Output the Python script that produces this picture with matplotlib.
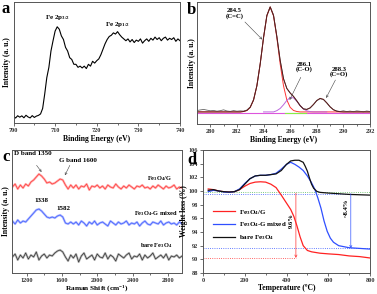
import numpy as np
import matplotlib
matplotlib.use('Agg')
import matplotlib.pyplot as plt

plt.rcParams['font.family'] = 'Liberation Serif'
plt.rcParams['font.weight'] = 'bold'
plt.rcParams['mathtext.fontset'] = 'custom'
plt.rcParams['mathtext.rm'] = 'Liberation Serif:bold'
plt.rcParams['mathtext.it'] = 'Liberation Serif:bold'
plt.rcParams['mathtext.bf'] = 'Liberation Serif:bold'
plt.rcParams['axes.edgecolor'] = '#555555'
plt.rcParams['axes.linewidth'] = 0.7

# ---- (a) Fe 2p XPS ----
fe_x = np.arange(700, 740.01, 0.5)
fe_y = [5.6, 4.1, 6.0, 4.8, 5.9, 4.3, 6.4, 5.0, 4.2, 6.1, 4.6, 5.7, 6.3, 7.5, 12.0, 24.0,
        37.5, 46.0, 59.5, 68.0, 76.0, 79.5, 77.5, 72.0, 69.0, 62.5, 59.5, 54.0, 52.5, 48.5,
        48.5, 46.0, 47.0, 45.5, 47.0, 45.0, 48.5, 47.0, 51.0, 49.5, 51.5, 53.0, 56.5, 61.0,
        65.5, 69.0, 71.5, 72.5, 74.5, 73.5, 75.5, 73.0, 71.0, 69.5, 68.0, 69.5, 67.0, 69.0,
        66.5, 68.5, 67.5, 69.5, 66.0, 68.0, 69.5, 67.5, 70.0, 68.5, 71.0, 69.0, 70.5, 68.0,
        70.0, 71.0, 68.5, 70.0, 69.0, 70.5, 67.5, 69.5, 68.0]

# ---- (b) C 1s XPS ----
c1s_x = np.arange(279, 292.01, 0.25)
c1s_raw = [1.8, 2.4, 2.9, 2.2, 1.6, 1.9, 1.2, 1.7, 2.5, 1.4, 1.0, 1.8, 1.2, 1.5, 1.3, 2.3,
           5.2, 12.0, 25.5, 46.5, 71.5, 92.5, 100.5, 93.0, 72.5, 49.5, 32.0, 22.8, 18.5, 15.2,
           10.9, 6.4, 3.5, 2.9, 4.2, 7.5, 11.2, 13.1, 12.3, 9.0, 5.3, 2.6, 1.4, 0.9, 1.6, 0.8,
           1.3, 0.7, 1.5, 1.1, 0.6, 1.4, 0.9]
cc_fit = [0] * 14 + [0.4, 1.4, 4.4, 11.4, 24.9, 45.8, 70.7, 91.7, 100, 91.7, 70.7, 45.8,
                     24.9, 11.4, 4.4, 1.4, 0.4] + [0] * 22
co_fit = [0] * 24 + [1.2, 3.3, 6.8, 11.0, 13.7, 13.4, 10.2, 6.0, 2.8, 1.0, 0.3] + [0] * 18
cdo_fit = [0] * 33 + [1.4, 3.6, 7.1, 10.9, 12.9, 12.0, 8.7, 4.9, 2.1, 0.7, 0.2] + [0] * 9

# ---- (c) Raman ----
raman_x = np.arange(1040, 2960.1, 30)
raman_g = [86, 89, 84, 88, 85, 89, 87, 91, 93, 96, 99, 97, 94, 90, 91, 89, 90, 92, 94, 93,
           88, 84, 88, 85, 88, 84, 87, 86, 89, 83, 87, 86, 88, 85, 87, 84, 88, 86, 85, 89,
           86, 84, 87, 85, 88, 86, 84, 87, 86, 88, 85, 86, 84, 87, 85, 88, 86, 84, 87, 85,
           86, 88, 84, 86, 85]
raman_mix = [52, 49, 53, 50, 52, 51, 54, 57, 60, 63, 64, 62, 59, 56, 55, 56, 55, 57, 58, 56,
             50, 49, 51, 49, 51, 48, 52, 50, 47, 51, 49, 52, 48, 50, 51, 49, 47, 52, 50, 48,
             51, 49, 50, 52, 48, 50, 49, 51, 47, 50, 52, 49, 48, 51, 50, 49, 52, 48, 50, 51,
             49, 50, 48, 51, 49]
raman_bare = [16, 19, 13, 18, 15, 20, 14, 18, 16, 21, 13, 17, 19, 15, 18, 17, 20, 22, 23, 21,
              16, 12, 18, 15, 19, 11, 17, 20, 14, 16, 18, 13, 19, 16, 15, 20, 14, 18, 16, 12,
              19, 17, 15, 18, 20, 14, 17, 16, 19, 13, 18, 15, 17, 20, 14, 16, 18, 15, 19, 13,
              17, 16, 18, 15, 17]

# ---- (d) TGA ----
tg_t = [25, 50, 75, 100, 125, 150, 175, 200, 225, 250, 275, 300, 325, 350, 375, 390, 405,
        420, 435, 450, 465, 480, 500, 520, 560, 600, 650, 700, 750, 800]
tg_w = [100.3, 100.2, 100.0, 99.9, 99.85, 99.9, 100.2, 100.7, 101.1, 101.3, 101.35, 101.3,
        101.0, 100.5, 99.4, 98.7, 98.0, 97.3, 96.3, 94.9, 93.3, 92.0, 91.3, 91.1, 90.9, 90.8,
        90.7, 90.5, 90.4, 90.2]
mix_t = [25, 50, 75, 100, 125, 150, 175, 200, 225, 250, 275, 300, 325, 350, 375, 400, 420,
         440, 460, 480, 500, 520, 535, 550, 565, 580, 595, 610, 625, 650, 700, 750, 800]
mix_w = [99.9, 100.1, 100.0, 99.85, 99.8, 99.9, 100.3, 101.1, 101.8, 102.2, 102.3, 102.3,
         102.4, 102.6, 103.2, 103.9, 104.2, 103.9, 103.5, 103.0, 102.2, 101.2, 100.3, 99.0,
         97.5, 95.6, 94.1, 93.1, 92.5, 92.0, 91.7, 91.6, 91.5]
bare_t = [25, 50, 75, 100, 125, 150, 175, 200, 225, 250, 275, 300, 325, 350, 375, 400, 420,
          440, 460, 480, 490, 500, 510, 520, 530, 545, 560, 600, 650, 700, 750, 800]
bare_w = [100.1, 100.2, 100.0, 99.9, 99.85, 99.9, 100.2, 101.0, 101.8, 102.2, 102.3, 102.3,
          102.4, 102.5, 103.0, 103.9, 104.4, 104.5, 104.5, 104.2, 103.6, 102.9, 101.9, 101.0,
          100.4, 99.95, 99.8, 99.7, 99.6, 99.5, 99.45, 99.4]

W, H = 377, 294


def box(l, t, r, b):
    return [l / W, 1 - b / H, (r - l) / W, (b - t) / H]


fig = plt.figure(figsize=(W / 100, H / 100), dpi=100)
axa = fig.add_axes(box(13.5, 2, 180, 123))
axb = fig.add_axes(box(197, 2, 370, 124))
axc = fig.add_axes(box(12, 150, 182, 273))
axd = fig.add_axes(box(203, 150, 370, 273))

for ax in (axa, axb, axc, axd):
    ax.tick_params(labelsize=4.5, length=2, width=0.5, pad=1.5, colors='#333333',
                   which='both', top=False, right=False)
    ax.tick_params(which='minor', length=1.2)

# (a)
axa.plot(fe_x, fe_y, color='black', lw=0.8)
axa.set_xlim(700, 740)
axa.set_ylim(0, 100)
axa.set_xticks([700, 710, 720, 730, 740])
axa.set_xticks([705, 715, 725, 735], minor=True)
axa.set_yticks([])
axa.set_xlabel('Binding Energy (eV)', fontsize=5.5, fontweight='bold', labelpad=1.5)
axa.set_ylabel('Intensity (a. u.)', fontsize=5.5, fontweight='bold', labelpad=1.5)
axa.text(710.6, 86.8, 'Fe 2p$_{3/2}$', fontsize=5, ha='center', va='center')
axa.text(725, 81, 'Fe 2p$_{1/2}$', fontsize=5, ha='center', va='center')

# (b)
env = np.array(cc_fit) + np.array(co_fit) + np.array(cdo_fit)
axb.axhline(0, color='#dd55dd', lw=0.8)
axb.plot([285.6, 287.2], [0, 0], color='#88ee44', lw=0.8)
axb.plot(c1s_x, np.array(cc_fit) + 1, color='#ff3333', lw=0.7)
axb.plot(c1s_x[20:40], np.array(co_fit[20:40]) + 1, color='#bb66dd', lw=0.7)
axb.plot(c1s_x, np.array(c1s_raw) + 0.5, color='#666666', lw=0.6)
axb.plot(c1s_x, env + 1, color='#5a1a1a', lw=0.7)
axb.set_xlim(279, 292)
axb.set_ylim(-10.5, 105.7)
axb.set_xticks([280, 282, 284, 286, 288, 290, 292])
axb.set_xticks([281, 283, 285, 287, 289, 291], minor=True)
axb.set_yticks([])
axb.set_xlabel('Binding Energy (eV)', fontsize=5.5, fontweight='bold', labelpad=1.5)
axb.set_ylabel('Intensity (a. u.)', fontsize=5.5, fontweight='bold', labelpad=1)
arw = dict(arrowstyle='->', color='#444444', lw=0.4, shrinkA=0, shrinkB=0,
           mutation_scale=4)
axb.text(281.8, 94.8, '284.5\n(C=C)', fontsize=4.8, ha='center', va='center',
         linespacing=0.9)
axb.annotate('', xy=(283.9, 70), xytext=(282.6, 86.7), arrowprops=arw)
axb.text(287.07, 43.8, '286.1\n(C-O)', fontsize=4.8, ha='center', va='center',
         linespacing=0.9)
axb.annotate('', xy=(285.96, 12.4), xytext=(286.8, 34), arrowprops=arw)
axb.text(289.7, 39.3, '288.3\n(C=O)', fontsize=4.8, ha='center', va='center',
         linespacing=0.9)
axb.annotate('', xy=(288.7, 14.3), xytext=(289.4, 31.4), arrowprops=arw)

# (c)
for ys, dark, light in ((raman_g, '#ff3b3b', '#ff9a9a'),
                        (raman_mix, '#3f5cff', '#9aa8ff'),
                        (raman_bare, '#333333', '#aaaaaa')):
    axc.plot(raman_x, ys, color=light, lw=1.6, alpha=0.8)
    axc.plot(raman_x, ys, color=dark, lw=0.5)
axc.set_xlim(1035, 2960)
axc.set_ylim(0, 123)
axc.set_xticks([1200, 1600, 2000, 2400, 2800])
axc.set_xticks([1400, 1800, 2200, 2600], minor=True)
axc.set_yticks([])
axc.set_xlabel('Raman Shift (cm$^{-1}$)', fontsize=5.3, fontweight='bold', labelpad=0.3)
axc.set_ylabel('Intensity (a. u.)', fontsize=5.5, fontweight='bold', labelpad=1.5)
axc.text(1275, 119.3, 'D band 1350', fontsize=5, ha='center', va='center')
axc.text(1784, 112.7, 'G band 1600', fontsize=5, ha='center', va='center')
axc.annotate('', xy=(1370, 101), xytext=(1313, 107.7), arrowprops=arw)
axc.annotate('', xy=(1634, 97.7), xytext=(1690, 107.7), arrowprops=arw)
axc.text(1370, 72.7, '1338', fontsize=5, ha='center', va='center')
axc.text(1615, 64.3, '1582', fontsize=5, ha='center', va='center')
axc.text(2710, 94.3, 'Fe$_3$O$_4$/G', fontsize=4.6, ha='center', va='center')
axc.text(2664, 59.3, 'Fe$_3$O$_4$-G mixed', fontsize=4.6, ha='center', va='center')
axc.text(2672, 27.7, 'bare Fe$_3$O$_4$', fontsize=4.6, ha='center', va='center')

# (d)
axd.plot([0, 800], [99.8, 99.8], color='#55bb55', lw=0.6, ls=':')
axd.plot([0, 708], [99.5, 99.5], color='#3355ff', lw=0.6, ls=':')
axd.plot([0, 445], [90.2, 90.2], color='#ff3333', lw=0.6, ls=':')
axd.plot([0, 800], [91.6, 91.6], color='#3355ff', lw=0.6, ls=':')
axd.plot(tg_t, tg_w, color='#ff2222', lw=0.9, label='Fe$_3$O$_4$/G')
axd.plot(mix_t, mix_w, color='#2f4fff', lw=0.9, label='Fe$_3$O$_4$-G mixed')
axd.plot(bare_t, bare_w, color='#111111', lw=0.9, label='bare Fe$_3$O$_4$')
axd.annotate('', xy=(445, 90.2), xytext=(445, 99.7),
             arrowprops=dict(arrowstyle='->', color='#ff3333', lw=0.5, shrinkA=0,
                             shrinkB=0, mutation_scale=4))
axd.annotate('', xy=(708, 91.6), xytext=(708, 99.6),
             arrowprops=dict(arrowstyle='->', color='#3355ff', lw=0.5, shrinkA=0,
                             shrinkB=0, mutation_scale=4))
axd.text(423, 95.7, '9.6%', fontsize=4.8, rotation=90, ha='center', va='center')
axd.text(686, 97.5, '~8.4%', fontsize=4.8, rotation=90, ha='center', va='center')
axd.set_xlim(0, 800)
axd.set_ylim(88, 106)
axd.set_xticks([0, 200, 400, 600, 800])
axd.set_xticks([100, 300, 500, 700], minor=True)
axd.set_yticks(np.arange(88, 106.1, 2))
axd.set_xlabel('Temperature (\u00baC)', fontsize=5.5, fontweight='bold', labelpad=0.8)
axd.set_ylabel('Weight loss (%)', fontsize=5.5, fontweight='bold', labelpad=0.5)
axd.legend(loc='upper left', bbox_to_anchor=(0.03, 0.57), frameon=False, fontsize=5,
           handlelength=3.2, handletextpad=0.6, labelspacing=0.55, borderpad=0.2)

for letter, x, y in (('a', 6, 9), ('b', 191, 10), ('c', 6, 157), ('d', 192, 160)):
    fig.text(x / W, 1 - y / H, letter, fontsize=12, fontweight='bold',
             ha='center', va='center')

fig.savefig('out.png', dpi=100)
